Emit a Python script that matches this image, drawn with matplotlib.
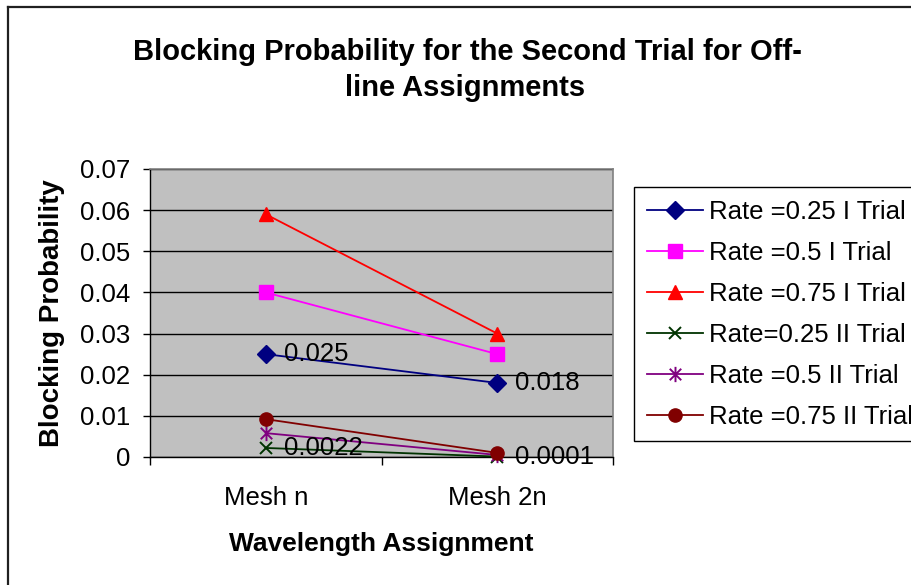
import matplotlib
matplotlib.use("Agg")
import matplotlib.pyplot as plt
from matplotlib.lines import Line2D
from matplotlib.path import Path

categories = ["Mesh n", "Mesh 2n"]
rate025_i = [0.025, 0.018]
rate05_i = [0.040, 0.025]
rate075_i = [0.059, 0.030]
rate025_ii = [0.0022, 0.0001]
rate05_ii = [0.0058, 0.0005]
rate075_ii = [0.0092, 0.0010]
series_labels = [
    "Rate =0.25 I Trial",
    "Rate =0.5 I Trial",
    "Rate =0.75 I Trial",
    "Rate=0.25 II Trial",
    "Rate =0.5 II Trial",
    "Rate =0.75 II Trial",
]
yticks = [0, 0.01, 0.02, 0.03, 0.04, 0.05, 0.06, 0.07]

# Excel-style asterisk: an x with a vertical bar through it
asterisk = Path(
    [(0, -1), (0, 1), (-0.75, -0.75), (0.75, 0.75), (-0.75, 0.75), (0.75, -0.75)],
    [Path.MOVETO, Path.LINETO] * 3,
)

styles = [
    dict(color="#000080", marker="D", ms=9),
    dict(color="#FF00FF", marker="s", ms=9.5),
    dict(color="#FF0000", marker="^", ms=10.5),
    dict(color="#003300", marker="x", ms=9, mew=1.4),
    dict(color="#800080", marker=asterisk, ms=11, mew=1.4, mfc="none"),
    dict(color="#800000", marker="o", ms=9.5),
]

plt.rcParams["font.family"] = ["Liberation Sans", "DejaVu Sans"]
FS = 18.5

fig = plt.figure(figsize=(9.12, 5.85), dpi=100)
fig.patch.set_facecolor("white")
ax = fig.add_axes([150 / 912, 1 - 457 / 585, 463 / 912, 288 / 585])
ax.set_facecolor("#C0C0C0")

x = list(range(len(categories)))
all_series = [rate025_i, rate05_i, rate075_i, rate025_ii, rate05_ii, rate075_ii]
for vals, lab, st in zip(all_series, series_labels, styles):
    ax.plot(x, vals, label=lab, lw=1.3, zorder=3, clip_on=False, **st)

# data labels shown on the chart
for vals in (rate025_i, rate025_ii):
    for xi, v in zip(x, vals):
        ax.annotate(f"{v:g}", (xi, v), xytext=(13, 0), textcoords="offset points",
                    ha="left", va="center", fontsize=FS, zorder=5)

ax.set_xlim(-0.5, len(categories) - 0.5)
ax.set_ylim(0, 0.07)
ax.set_yticks(yticks)
ax.set_yticklabels([f"{t:g}" for t in yticks])
ax.yaxis.grid(True, color="black", lw=1)
ax.set_axisbelow(True)

ax.set_xticks(x)
ax.set_xticklabels(categories)
ax.set_xticks([-0.5, 0.5, 1.5], minor=True)
ax.tick_params(axis="x", which="major", length=0, pad=21, labelsize=FS)
ax.tick_params(axis="x", which="minor", length=6, width=1, color="black")
ax.tick_params(axis="y", length=5, width=1, pad=9, labelsize=FS)

for side in ("top", "right"):
    ax.spines[side].set_color("#808080")
    ax.spines[side].set_linewidth(1.2)
for side in ("left", "bottom"):
    ax.spines[side].set_color("black")
    ax.spines[side].set_linewidth(1)

ax.set_xlabel("Wavelength Assignment", fontsize=19, fontweight="bold", labelpad=16)
ax.set_ylabel("Blocking Probability", fontsize=20, fontweight="bold", labelpad=11)

fig.text(467 / 912, 1 - 52 / 585, "Blocking Probability for the Second Trial for Off-",
         ha="center", va="center", fontsize=21, fontweight="bold")
fig.text(465 / 912, 1 - 88 / 585, "line Assignments",
         ha="center", va="center", fontsize=21, fontweight="bold")

leg = ax.legend(loc="upper left", bbox_to_anchor=(634 / 912, 1 - 187 / 585),
                bbox_transform=fig.transFigure, borderaxespad=0, fontsize=FS,
                frameon=True, fancybox=False, framealpha=1, edgecolor="black",
                handlelength=2.2, handletextpad=0.2, labelspacing=0.66,
                borderpad=0.5)
leg.get_frame().set_linewidth(1)

# outer chart-area border (top and left edges visible)
fig.add_artist(Line2D([8 / 912, 8 / 912], [0, 1 - 7 / 585], transform=fig.transFigure,
                      color="#202020", lw=1.6))
fig.add_artist(Line2D([8 / 912, 1], [1 - 7 / 585, 1 - 7 / 585], transform=fig.transFigure,
                      color="#202020", lw=1.6))

fig.savefig("out.png", dpi=100)
